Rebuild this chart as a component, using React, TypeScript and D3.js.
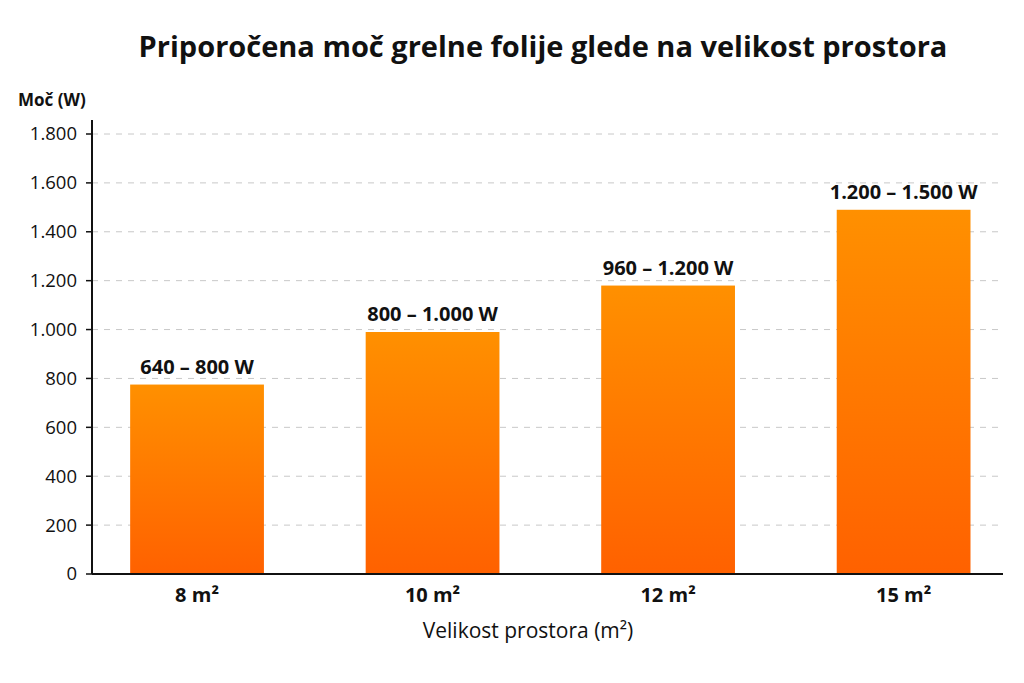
import React from "react";
import * as d3 from "d3";

const categories = ["8 m²", "10 m²", "12 m²", "15 m²"];
const values = [775, 990, 1180, 1490];
const barLabels = ["640 – 800 W", "800 – 1.000 W", "960 – 1.200 W", "1.200 – 1.500 W"];
const yTicks = [0, 200, 400, 600, 800, 1000, 1200, 1400, 1600, 1800];

const W = 1024, H = 683;
const left = 92, right = 1003, top = 134, bottom = 574;
const FONT = "'Open Sans', 'Noto Sans', sans-serif";

const fmt = (v: number) => v.toLocaleString("de-DE");

export default function App() {
  const y = d3.scaleLinear().domain([0, 1800]).range([bottom, top]);
  const x = d3.scaleBand<string>().domain(categories).range([left, right]).paddingInner(0.432).paddingOuter(0.15).align(0.54);
  return (
    <svg width={W} height={H} style={{ position: "absolute", left: 0, top: 0, background: "#fff" }} fontFamily={FONT}>
      <defs>
        <linearGradient id="barGrad" x1="0" y1="0" x2="0" y2="1">
          <stop offset="0%" stopColor="#FF9000" />
          <stop offset="100%" stopColor="#FF6100" />
        </linearGradient>
      </defs>
      <text x={543} y={57} textAnchor="middle" fontSize={29} fontWeight={700} fill="#111">
        Priporočena moč grelne folije glede na velikost prostora
      </text>
      <text x={18} y={106} fontSize={17} fontWeight={700} fill="#111">Moč (W)</text>
      {yTicks.map(t => (
        <g key={t}>
          {t > 0 && (
            <line x1={left} x2={right} y1={y(t)} y2={y(t)} stroke="#c8c8c8" strokeWidth={1} strokeDasharray="6,6" />
          )}
          <line x1={left - 6} x2={left} y1={y(t)} y2={y(t)} stroke="#111" strokeWidth={1.5} />
          <text x={77} y={y(t)} dy="0.35em" textAnchor="end" fontSize={18.5} fill="#111">{fmt(t)}</text>
        </g>
      ))}
      {categories.map((c, i) => (
        <g key={c}>
          <rect x={x(c)} y={y(values[i])} width={x.bandwidth()} height={bottom - y(values[i])} fill="url(#barGrad)" />
          <text x={(x(c) as number) + x.bandwidth() / 2} y={y(values[i]) - 11} textAnchor="middle" fontSize={20} fontWeight={700} fill="#111">
            {barLabels[i]}
          </text>
          <text x={(x(c) as number) + x.bandwidth() / 2} y={602} textAnchor="middle" fontSize={20} fontWeight={700} fill="#111">
            {c}
          </text>
        </g>
      ))}
      <line x1={left} x2={left} y1={120} y2={bottom} stroke="#111" strokeWidth={2} />
      <line x1={left} x2={right} y1={bottom} y2={bottom} stroke="#111" strokeWidth={2} />
      <text x={528} y={638} textAnchor="middle" fontSize={21} fill="#111">Velikost prostora (m²)</text>
    </svg>
  );
}
